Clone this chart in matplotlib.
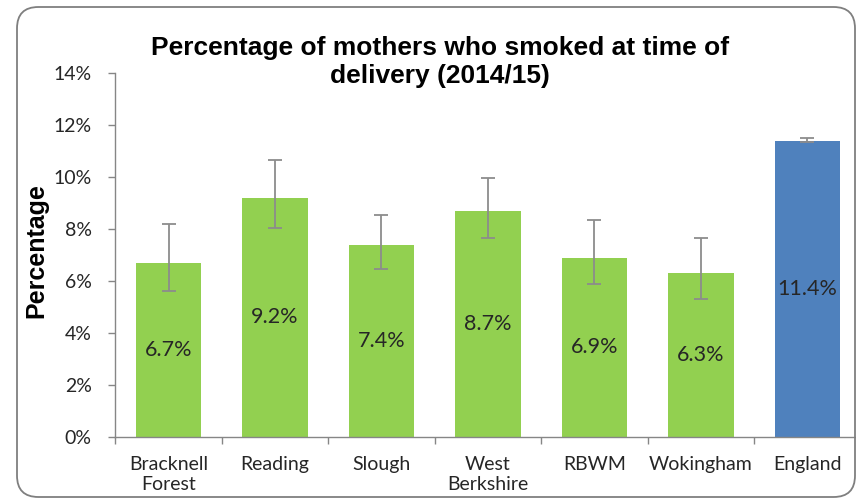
import matplotlib
matplotlib.use("Agg")
import matplotlib.pyplot as plt
from matplotlib.patches import FancyBboxPatch
from matplotlib.ticker import PercentFormatter

# données du graphique
areas = ["Bracknell\nForest", "Reading", "Slough", "West\nBerkshire", "RBWM", "Wokingham", "England"]
values = [6.7, 9.2, 7.4, 8.7, 6.9, 6.3, 11.4]
ci_low = [5.6, 8.05, 6.45, 7.65, 5.9, 5.3, 11.35]
ci_high = [8.2, 10.65, 8.55, 9.95, 8.35, 7.65, 11.5]
colours = ["#92D050"] * 6 + ["#4F81BD"]

grey = "#868686"
txt = "#262626"

fig = plt.figure(figsize=(8.56, 5.01), dpi=100)
ax = fig.add_axes([0.1347, 0.1277, 0.8707, 0.7265])

x = range(len(areas))
err = [[v - lo for v, lo in zip(values, ci_low)],
       [hi - v for v, hi in zip(values, ci_high)]]
bars = ax.bar(x, values, width=0.617, color=colours, zorder=2)
ax.errorbar(x, values, yerr=err, fmt="none", ecolor="#8c8c8c",
            elinewidth=1.3, capsize=5, capthick=1.3, zorder=3)

# étiquettes au milieu des barres
for b, v in zip(bars, values):
    ax.text(b.get_x() + b.get_width() / 2, v / 2, f"{v:.1f}%",
            ha="center", va="center", fontsize=15.5, family="Lato", color=txt, zorder=4)

ax.set_xlim(-0.5, len(areas) - 0.5)
ax.set_ylim(0, 14)
ax.set_yticks(range(0, 15, 2))
ax.yaxis.set_major_formatter(PercentFormatter(decimals=0))
ax.set_xticks([i - 0.5 for i in range(len(areas) + 1)], minor=False)
ax.set_xticklabels([])
ax.set_xticks(list(x), minor=True)
ax.set_xticklabels(areas, minor=True, fontsize=14, family="Lato", color=txt)
ax.tick_params(axis="x", which="minor", length=0, pad=13.5)
ax.tick_params(axis="x", which="major", length=5, color=grey, width=1)
ax.tick_params(axis="y", length=5, color=grey, width=1, pad=12, labelsize=14, labelcolor=txt)
for lbl in ax.get_yticklabels():
    lbl.set_family("Lato")

for s in ["top", "right"]:
    ax.spines[s].set_visible(False)
for s in ["left", "bottom"]:
    ax.spines[s].set_color(grey)
    ax.spines[s].set_linewidth(1)

fig.text(0.514, 0.877, "Percentage of mothers who smoked at time of\ndelivery (2014/15)",
         ha="center", va="center", fontsize=19, fontweight="bold",
         family="Liberation Sans", color="black", linespacing=1.2)
fig.text(0.042, 0.499, "Percentage", rotation=90, ha="center", va="center",
         fontsize=18, fontweight="bold", family="Liberation Sans", color="black")

# cadre arrondi autour du graphique
cadre = FancyBboxPatch((17 / 856, 4 / 501), 838 / 856, 490 / 501,
                       boxstyle="round,pad=0,rounding_size=0.025",
                       transform=fig.transFigure, fill=False,
                       edgecolor="#7f7f7f", linewidth=1.3, mutation_aspect=856 / 501)
fig.patches.append(cadre)

fig.savefig("out.png", dpi=100)
